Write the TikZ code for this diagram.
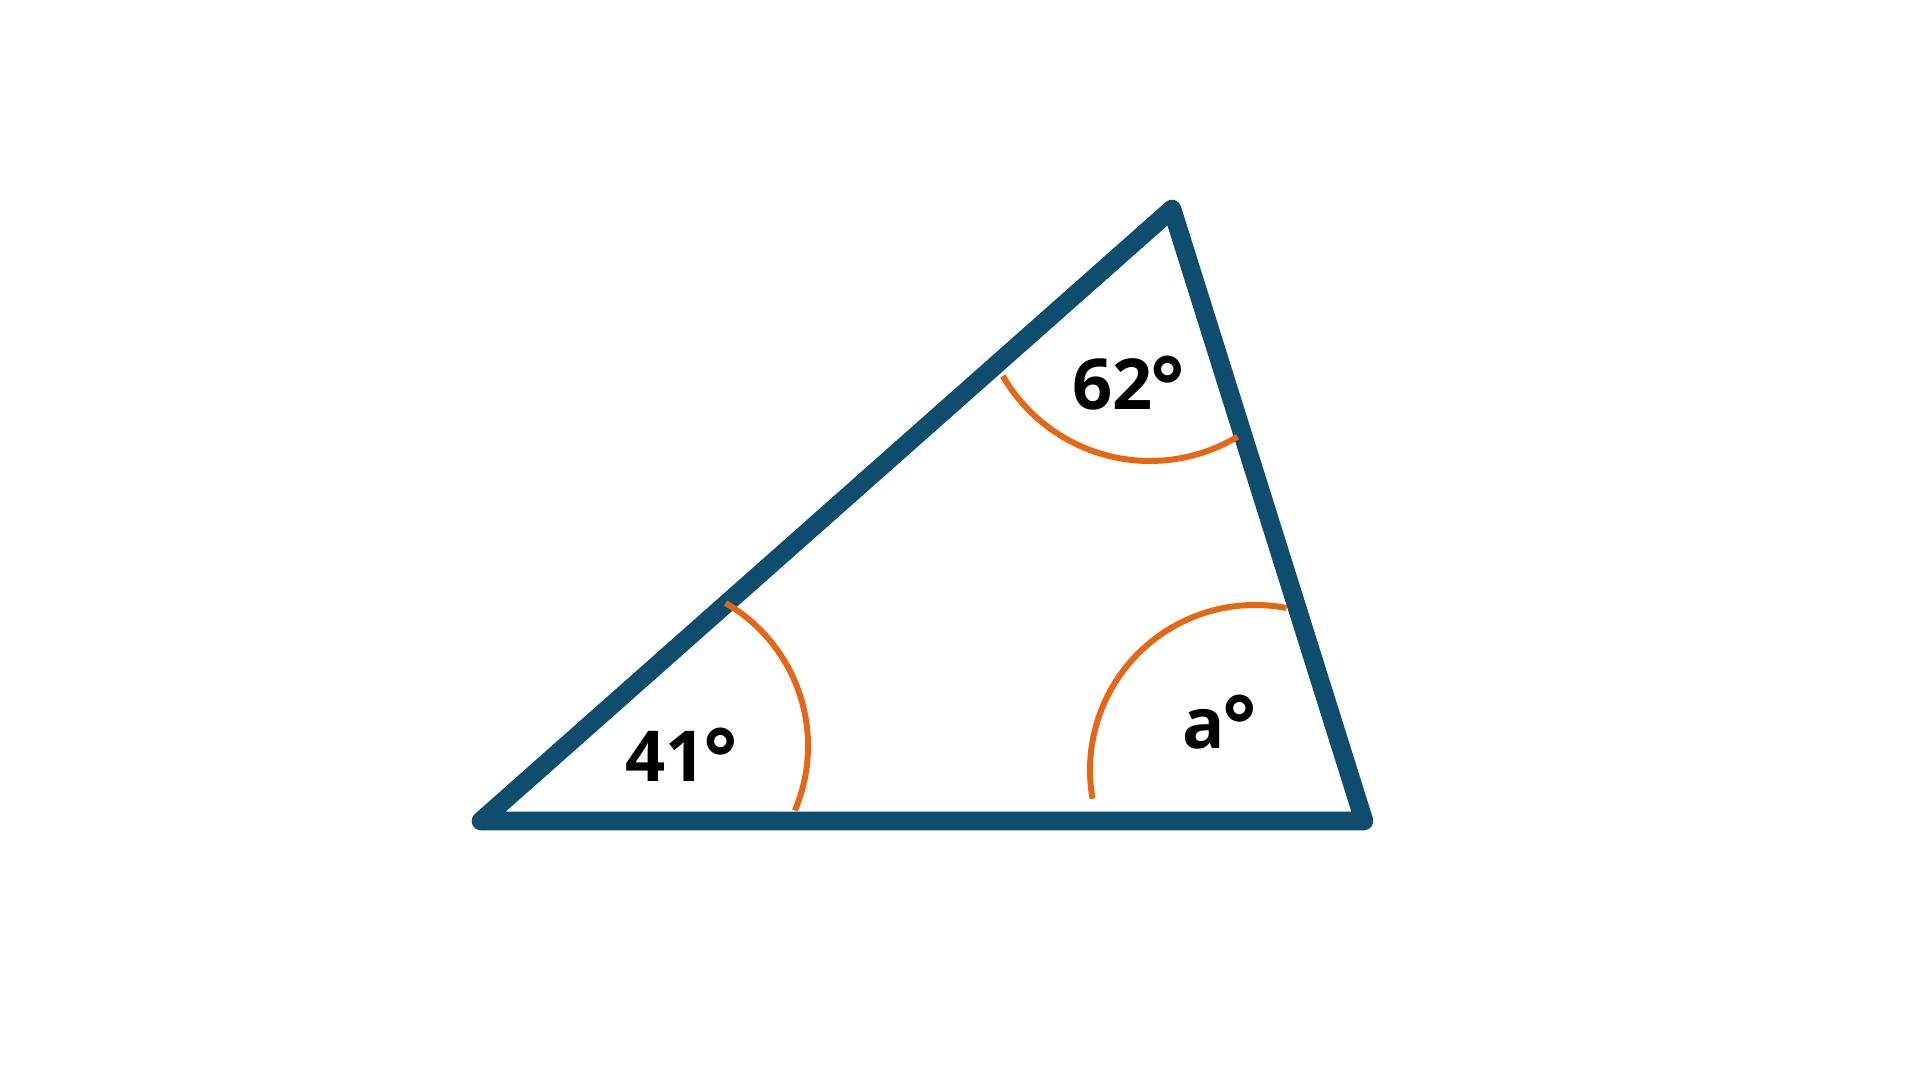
\documentclass[tikz,border=0pt]{standalone}
\usepackage{fontspec}
\setmainfont{Open Sans}
\usepackage{tikz}
\tikzset{>=latex}
\definecolor{edge blue}{HTML}{0F4D6F}
\definecolor{angle orange}{HTML}{E56614}
\newcommand{\degmark}{\kern-0.6pt\raisebox{-1.4pt}{\fontsize{23}{24}\selectfont °}}
\tikzset{
    side/.style={draw=edge blue, line width=5.3pt, line join=round},
    anglemark/.style={draw=angle orange, line width=1.7pt},
    anglelabel/.style={anchor=base, inner sep=0pt, font=\fontsize{20}{24}\selectfont\bfseries}
}

\begin{document}
\begin{tikzpicture}
        \useasboundingbox (0, 0) rectangle (19.2, 10.8);
        \coordinate (left) at (4.81, 2.59);
        \coordinate (top) at (11.72, 8.71);
        \coordinate (right) at (13.64, 2.59);
        \draw[side] (left) -- (top) -- (right) -- cycle;
        % angle arcs
        \draw[anglemark] (6.43, 3.34) ++(60:1.65) arc (60:-23:1.65);
        \draw[anglemark] (11.50, 7.89) ++(210:1.70) arc (210:301:1.70);
        \draw[anglemark] (12.55, 3.10) ++(79:1.65) arc (79:190:1.65);
        \node[anglelabel] (left label) at (6.82, 2.98) {41\degmark};
        \node[anglelabel] (top label) at (11.29, 6.70) {62\degmark};
        \node[anglelabel] (right label) at (12.20, 3.31) {a\degmark};
    \end{tikzpicture}
\end{document}
